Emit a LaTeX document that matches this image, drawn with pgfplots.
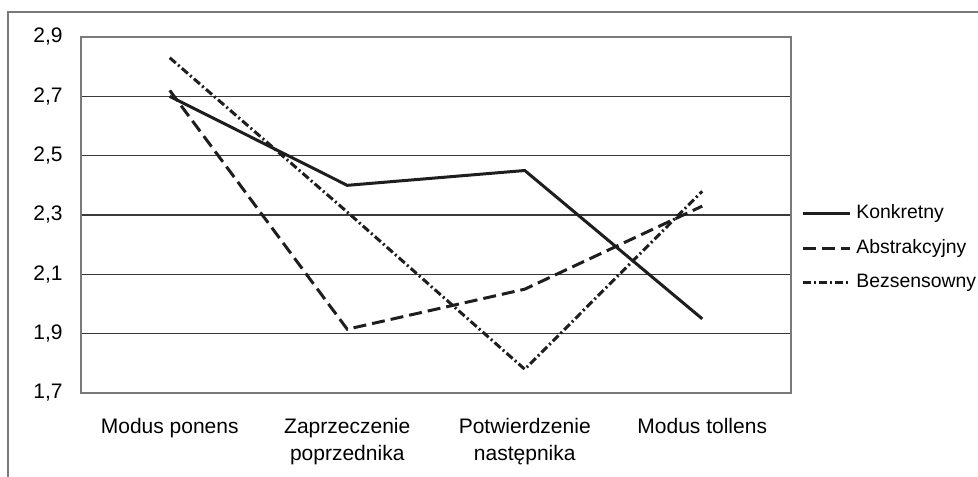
\documentclass[border=0pt]{standalone}
\usepackage{pgfplots}
\pgfplotsset{compat=1.18}
\usepackage{fontspec}
\setmainfont{Liberation Sans}
\definecolor{lineK}{HTML}{1E1E1E}
\definecolor{gridc}{HTML}{3A3A3A}
\definecolor{framec}{HTML}{7A7A7A}
\begin{document}
\begin{tikzpicture}
\useasboundingbox (0,0) rectangle (489pt,-238pt);
\draw[framec, line width=0.6pt] (4pt,-240pt) -- (4pt,-6pt) -- (490pt,-6pt);
\begin{axis}[
  at={(40.5pt,-196.5pt)}, anchor=south west,
  scale only axis, width=355pt, height=178pt,
  xmin=-0.5, xmax=3.5, ymin=1.7, ymax=2.9,
  ytick={1.7,1.9,2.1,2.3,2.5,2.7,2.9},
  xtick={0,1,2,3},
  xticklabels={Modus ponens,{Zaprzeczenie\\poprzednika},{Potwierdzenie\\następnika},Modus tollens},
  major tick length=0pt,
  ymajorgrids,
  grid style={gridc, line width=0.75pt},
  axis line style={framec, line width=0.6pt},
  tick label style={font=\fontsize{10.5}{13.5}\selectfont},
  xticklabel style={anchor=north, inner sep=0pt, yshift=-12.5pt, align=center},
  yticklabel style={anchor=east, inner sep=0pt, xshift=-9pt},
  /pgf/number format/.cd, use comma, fixed, fixed zerofill, precision=1, assume math mode=true,
  /pgfplots/.cd,
  legend style={at={(1,0.407)}, anchor=west, xshift=5pt, draw=none, fill=none,
    inner sep=0pt, row sep=8.45pt, column sep=2.5pt,
    font=\fontsize{9.7}{11.5}\selectfont,
    nodes={inner sep=0pt, text height=6.9pt, text depth=1.9pt}},
  legend cell align=left,
  legend image code/.code={\draw[#1] (0pt,0pt) -- (23.5pt,0pt);},
]
\addplot[lineK, line width=1.5pt] coordinates {(0,2.70) (1,2.40) (2,2.45) (3,1.95)};
\addlegendentry{Konkretny}
\addplot[lineK, line width=1.5pt, dash pattern=on 6.5pt off 3pt] coordinates {(0,2.72) (1,1.915) (2,2.05) (3,2.33)};
\addlegendentry{Abstrakcyjny}
\addplot[lineK, line width=1.5pt, dash pattern=on 4pt off 1.5pt on 1pt off 1.5pt] coordinates {(0,2.83) (1,2.31) (2,1.78) (3,2.38)};
\addlegendentry{Bezsensowny}
\end{axis}
\end{tikzpicture}
\end{document}
